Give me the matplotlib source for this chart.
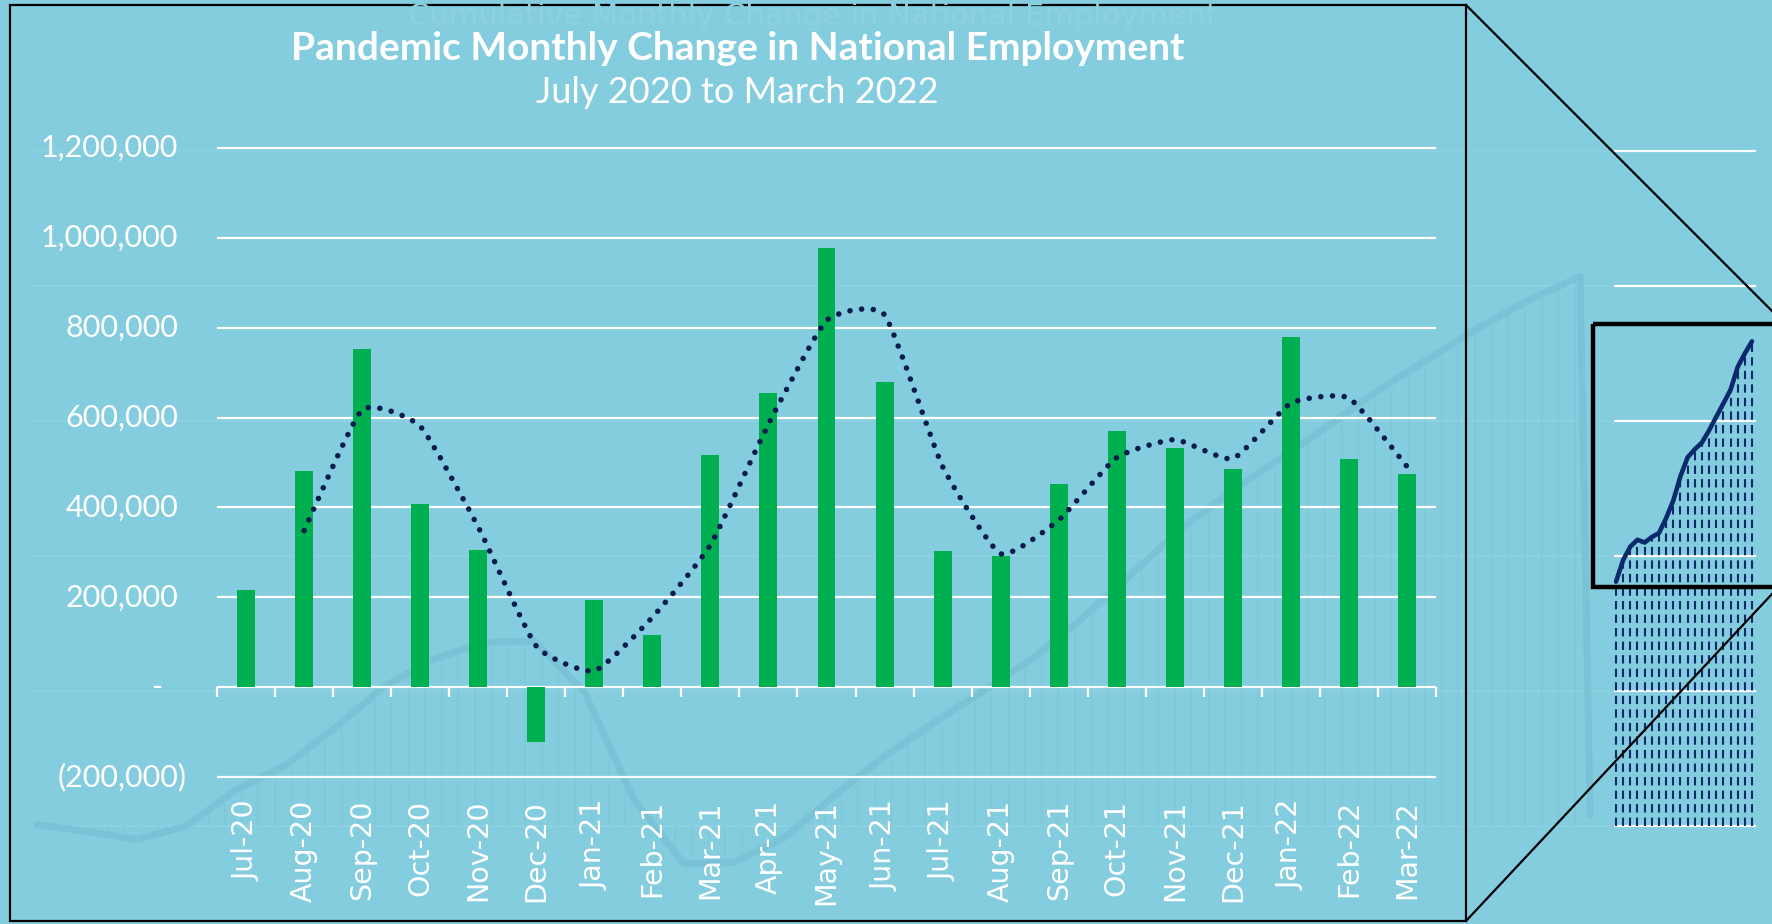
import numpy as np
import matplotlib.pyplot as plt
from matplotlib.path import Path
from matplotlib.patches import PathPatch, Rectangle
from matplotlib.lines import Line2D
from matplotlib import transforms

# ---- data ----
months = ['Jul-20', 'Aug-20', 'Sep-20', 'Oct-20', 'Nov-20', 'Dec-20', 'Jan-21',
          'Feb-21', 'Mar-21', 'Apr-21', 'May-21', 'Jun-21', 'Jul-21', 'Aug-21',
          'Sep-21', 'Oct-21', 'Nov-21', 'Dec-21', 'Jan-22', 'Feb-22', 'Mar-22']
monthly_change = [216000, 481000, 753000, 408000, 305000, -122000, 194000,
                  117000, 516000, 655000, 977000, 680000, 302000, 292000,
                  452000, 570000, 532000, 485000, 779000, 508000, 474000]
yticks = [-200000, 0, 200000, 400000, 600000, 800000, 1000000, 1200000]
ytick_labels = ['(200,000)', '-', '200,000', '400,000', '600,000', '800,000',
                '1,000,000', '1,200,000']

# faded cumulative chart in the background (millions)
ghost_x = list(range(32)) + [31.2]
ghost_cum = [0.01, -0.04, -0.10, 0.0, 0.27, 0.45, 0.73, 1.04, 1.24, 1.36, 1.37,
             0.99, 0.19, -0.28, -0.27, -0.09, 0.22, 0.51, 0.76, 1.00, 1.24,
             1.54, 1.87, 2.21, 2.48, 2.73, 2.98, 3.24, 3.47, 3.70, 3.90, 4.07, 0.08]
# zoomed piece of the cumulative chart (right side)
zoom_cum = [1.81, 1.97, 2.07, 2.12, 2.10, 2.14, 2.17, 2.28, 2.41, 2.59,
            2.73, 2.79, 2.84, 2.93, 3.03, 3.13, 3.23, 3.40, 3.50, 3.59]

BG = '#84CDDF'
GREEN = '#00B050'
NAVY = '#0C1B4D'
W, H = 1772, 924

fig = plt.figure(figsize=(W / 100, H / 100), dpi=100, facecolor=BG)


def px_axes(x0, y0, x1, y1, z):
    a = fig.add_axes([x0 / W, 1 - y1 / H, (x1 - x0) / W, (y1 - y0) / H], zorder=z)
    a.set_facecolor('none')
    a.axis('off')
    return a


# ---- ghost background chart ----
gax = px_axes(29, 151, 1610, 961, 0)
gax.set_xlim(-0.16, 31.6)
gax.set_ylim(-1, 5)
gax.hlines(range(6), -0.16, 31.6, color='#8BD1E1', lw=1.6, zorder=0)
plt.rcParams['hatch.linewidth'] = 1.0
gax.fill_between(ghost_x, ghost_cum, 0, facecolor='none', edgecolor='#7FC8DA',
                 hatch='|', lw=0, zorder=1)
gax.plot(ghost_x, ghost_cum, color='#7AC3D6', lw=5, solid_capstyle='round', zorder=2)
fig.text(813 / W, 1 - 25 / H, 'Cumulative Monthly Change in National Employment',
         ha='center', va='baseline', fontsize=22, color='#8CD1E2', family='DejaVu Sans')

# ---- zoomed inset ----
iax = px_axes(1614, 151, 1756, 826, 1)
iax.set_xlim(-0.28, 19.56)
iax.set_ylim(0, 5)
iax.hlines(range(6), -0.28, 19.56, color='white', lw=1.6, clip_on=False)
idx = np.arange(len(zoom_cum))
iax.vlines(idx, 0, zoom_cum, color='#0B2A6B', lw=1.5, linestyles=(0, (4, 2.5)))
iax.plot(idx, zoom_cum, color='#0B2A6B', lw=3.3, solid_capstyle='round')

# ---- main chart ----
ax = px_axes(217, 148, 1436, 777, 2)
ax.axis('on')
for s in ax.spines.values():
    s.set_visible(False)
x = np.arange(len(months))
ax.set_xlim(-0.5, len(months) - 0.5)
ax.set_ylim(-200000, 1200000)
ax.hlines(yticks, -0.5, len(months) - 0.5, color='white', lw=1.6, clip_on=False, zorder=1)
ax.bar(x, monthly_change, width=0.31, color=GREEN, zorder=2)
# category tick marks hanging from the zero line
ax.plot(np.arange(len(months) + 1) - 0.5, np.zeros(len(months) + 1), ls='none',
        marker=3, markersize=7.5, mew=1.6, color='white', clip_on=False, zorder=3)

# 2-period moving average, drawn as a smoothed bezier through the points
ma = np.convolve(monthly_change, [0.5, 0.5], mode='valid')
pts = np.column_stack([x[1:], ma])
ext = np.vstack([pts[0], pts, pts[-1]])
k = 1 / 12
verts = [tuple(pts[0])]
codes = [Path.MOVETO]
for i in range(1, len(ext) - 2):
    p0, p1, p2, p3 = ext[i - 1], ext[i], ext[i + 1], ext[i + 2]
    verts += [tuple(p1 + (p2 - p0) * k), tuple(p2 - (p3 - p1) * k), tuple(p2)]
    codes += [Path.CURVE4] * 3
trend = PathPatch(Path(verts, codes), fill=False, edgecolor=NAVY, lw=4.0,
                  linestyle=(0, (0.01, 2.1)), capstyle='round', zorder=4)
ax.add_patch(trend)

ax.set_yticks([])
ax.set_xticks(x, months, rotation=90)
ax.tick_params(axis='x', length=0, pad=16.5, labelsize=20.5, labelcolor='white')
for t in ax.get_xticklabels():
    t.set_family('DejaVu Sans')

trans = transforms.blended_transform_factory(ax.transAxes, ax.transData)
for v, lab in zip(yticks, ytick_labels):
    off = -30 if lab.startswith('(') else (-55 if lab == '-' else -39)
    ax.annotate(lab, (0, v), xycoords=trans, xytext=(off * 0.72, 0),
                textcoords='offset points', ha='right', va='center',
                fontsize=22, color='white', family='Lato')

fig.text(738 / W, 1 - 60 / H, 'Pandemic Monthly Change in National Employment',
         ha='center', va='baseline', fontsize=28, color='white', family='Lato',
         fontweight='bold')
fig.text(737 / W, 1 - 103 / H, 'July 2020 to March 2022', ha='center', va='baseline',
         fontsize=26, color='white', family='Lato')

# ---- frame, zoom box and connector lines ----
deco = px_axes(0, 0, W, H, 3)
deco.set_xlim(0, W)
deco.set_ylim(H, 0)
deco.add_patch(Rectangle((10, 5), 1456, 916, fill=False, ec='black', lw=1.6))
deco.add_patch(Rectangle((1593, 324), 250, 263, fill=False, ec='black', lw=3.2,
                         clip_on=False))
deco.add_line(Line2D([1466, 1772], [5, 311], color='black', lw=1.6))
deco.add_line(Line2D([1466, 1772], [921, 594], color='black', lw=1.6))

fig.savefig('out.png', dpi=100, facecolor=BG)
